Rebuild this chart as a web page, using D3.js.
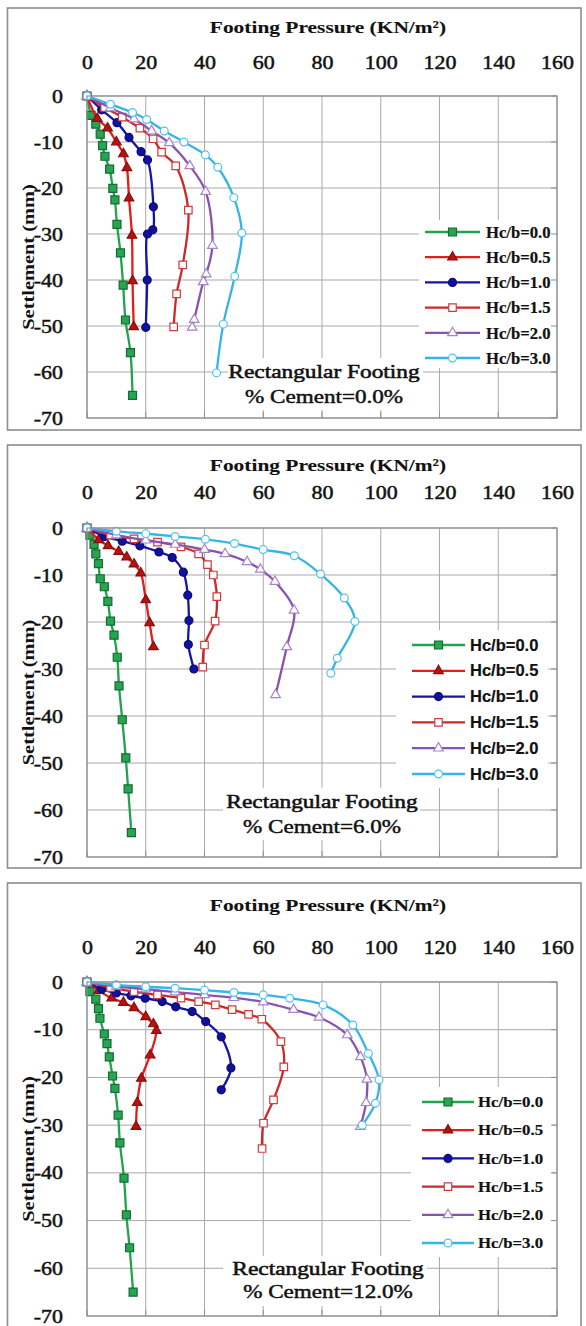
<!DOCTYPE html>
<html><head><meta charset="utf-8">
<script src="https://cdn.jsdelivr.net/npm/d3@7"></script>
<style>body{margin:0;background:#fff}svg{display:block}</style>
</head><body>
<svg id="c" width="586" height="1326"></svg>
<script>
// ---------- DATA ----------
const seriesNames = ["Hc/b=0.0","Hc/b=0.5","Hc/b=1.0","Hc/b=1.5","Hc/b=2.0","Hc/b=3.0"];
const xTickValues = [0,20,40,60,80,100,120,140,160];
const yTickValues = [0,-10,-20,-30,-40,-50,-60,-70];
const xTitle = "Footing Pressure (KN/m²)";
const yTitle = "Settlement (mm)";
const noteLine1 = "Rectangular Footing";
const cementLabels = ["% Cement=0.0%","% Cement=6.0%","% Cement=12.0%"];

// [pressure, settlement] — Cement 0.0%
const c0_h00 = [[0,0],[1.4,-4.2],[3,-6.1],[4.5,-8.3],[5.3,-10.8],[6.1,-13.1],[7.7,-15.9],[8.8,-20.1],[9.5,-22.6],[10.2,-27.9],[11.4,-34.1],[12.3,-41.1],[13.1,-48.7],[14.8,-55.8],[15.5,-65.1]];
const c0_h05 = [[0,0],[3.5,-4.9],[7,-7],[10,-10],[12.4,-12.6],[13.6,-15.6],[14.3,-22.2],[15.3,-30.3],[15.5,-40.2],[15.9,-50.2]];
const c0_h10 = [[0,0],[5,-3],[10.2,-5.8],[14.3,-9],[18.4,-12.1],[20.6,-13.9],[22.6,-24.1],[22.4,-29.1],[20.6,-30],[20.5,-40],[20,-50.3]];
const c0_h15 = [[0,0],[6,-2.5],[12,-4.6],[18,-7],[22.5,-9.3],[25.4,-12.2],[30.2,-15.2],[34.5,-24.8],[32.6,-36.7],[30.5,-43],[29.5,-50.2]];
const c0_h20 = [[0,0],[8,-2.6],[16,-5],[22,-7.6],[28,-10.2],[35,-15.2],[40.4,-20.8],[42.7,-32.5],[40.6,-38.7],[39.6,-40.4],[36.5,-48.6],[35.8,-50.3]];
const c0_h30 = [[0,0],[8,-1.8],[15.5,-3.6],[20.3,-5.1],[26.3,-7.6],[33,-10],[40.3,-12.8],[44.5,-15.5],[50,-22.1],[52.7,-29.8],[50.3,-39.2],[46.4,-49.6],[44.1,-60.2]];

// Cement 6.0%
const c6_h00 = [[0,0],[1,-1.5],[2.4,-3.5],[3,-5.5],[3.9,-7.6],[4.5,-10.8],[5.9,-12.5],[7.1,-15.6],[8,-19.8],[9.2,-22.8],[10.3,-27.5],[10.9,-33.6],[12,-40.8],[13.2,-48.9],[14,-55.5],[15.1,-64.8]];
const c6_h05 = [[0,0],[4,-2.5],[7.2,-3.8],[10.8,-5],[13.5,-6.2],[16,-7.7],[18.3,-9.6],[20,-15.3],[21.3,-20.2],[22.6,-25.3]];
const c6_h10 = [[0,0],[6,-1.8],[12,-2.8],[18,-3.8],[24.5,-5.1],[29,-6.3],[32.8,-9.4],[34.3,-14.3],[34.7,-19.7],[34.5,-24.8],[36.4,-30]];
const c6_h15 = [[0,0],[8,-1.5],[16,-2.3],[24,-3],[32,-4],[38,-5.5],[41,-7.8],[43,-10],[44.2,-14.6],[43.6,-19.8],[40,-24.9],[39.4,-29.6]];
const c6_h20 = [[0,0],[10,-1.5],[20,-2.6],[30,-3.5],[40,-4.6],[47,-5.5],[54.5,-7.2],[59,-8.8],[64,-11.4],[70.5,-17.5],[68,-25.3],[64.2,-35.5]];
const c6_h30 = [[0,0],[10,-0.7],[20,-1.2],[30,-1.8],[40.3,-2.4],[50.2,-3.3],[60,-4.6],[70.6,-5.9],[79.5,-9.8],[87.6,-14.9],[91.2,-19.9],[85.2,-27.7],[83,-30.9]];

// Cement 12.0%
const c12_h00 = [[0,0],[1,-2],[3,-3.6],[3.9,-5.6],[4.4,-7.6],[5.9,-10.9],[6.8,-12.9],[7.6,-15.7],[8.7,-19.7],[9.5,-22.3],[10.6,-27.9],[11.2,-33.7],[12.6,-41.1],[13.4,-48.8],[14.5,-55.7],[15.7,-65]];
const c12_h05 = [[0,0],[4,-1.8],[8.4,-3.4],[12.4,-4.3],[16,-5.4],[20,-7.3],[22.6,-8.8],[23.6,-10.2],[21.5,-15.3],[18.5,-20.2],[17.1,-25.3],[16.7,-30.3]];
const c12_h10 = [[0,0],[5,-1.5],[10,-2.3],[15,-2.9],[19.8,-3.4],[25.6,-4.1],[30.2,-5.2],[35.8,-6.2],[40.4,-8.3],[45.7,-11.5],[49,-18],[45.7,-22.6]];
const c12_h15 = [[0,0],[8,-1.2],[16,-2],[24,-2.7],[32,-3.4],[38,-4.1],[43.7,-4.8],[49.4,-5.8],[55,-6.8],[59.5,-7.8],[66,-12.5],[67,-17.8],[63.5,-24.7],[60.1,-29.6],[59.6,-34.9]];
const c12_h20 = [[0,0],[10,-0.9],[20,-1.5],[30,-2.1],[40,-2.7],[50,-3.3],[60,-4.2],[70.3,-5.8],[79,-7.4],[88.6,-11.1],[93.1,-15.7],[95.3,-20.4],[95,-25.3],[93.1,-30.3]];
const c12_h30 = [[0,0],[10,-0.6],[20,-1],[30,-1.3],[40,-1.7],[50,-2.2],[60,-2.7],[69,-3.4],[80.4,-4.8],[90.5,-9],[95.8,-15],[99.4,-20.5],[98.2,-25.4],[93.7,-30]];

// ---------- STYLE / LAYOUT ----------
const styles = [
  {line:"#22a34f", shape:d3.symbolSquare, size:64, fill:"#27a552", stroke:"#156b33"},
  {line:"#e31c1c", shape:d3.symbolTriangle, size:40, fill:"#b51212", stroke:"#8e0c0c"},
  {line:"#1515a6", shape:d3.symbolCircle, size:50, fill:"#1111a0", stroke:"#0b0b72"},
  {line:"#cc2a2a", shape:d3.symbolSquare, size:56, fill:"#fff", stroke:"#d23a3a"},
  {line:"#8a52b0", shape:d3.symbolTriangle, size:40, fill:"#fff", stroke:"#a784cc"},
  {line:"#36b4e6", shape:d3.symbolCircle, size:48, fill:"#fff", stroke:"#4ec2f0"}
];
const serif = "Liberation Serif, Times New Roman, serif";
const sans = "Liberation Sans, Arial, sans-serif";

const panels = [
  {data:[c0_h00,c0_h05,c0_h10,c0_h15,c0_h20,c0_h30], top:8, bottom:430, py0:96, py1:418, titleY:27, tickY:63,
   legBox:[419,220,137,148], legY0:232, legStep:25.2, legLine:[425,480], legText:486,
   legFont:{family:serif, weight:"bold", size:17, sx:0.98},
   noteBox:[228,358,195,52], note1:372, note2:397, noteX:324},
  {data:[c6_h00,c6_h05,c6_h10,c6_h15,c6_h20,c6_h30], top:445, bottom:868, py0:528, py1:857, titleY:465, tickY:493,
   legBox:[396,630,152,158], legY0:645, legStep:25.8, legLine:[412,465], legText:470,
   legFont:{family:sans, weight:"bold", size:16.5, sx:1.0},
   noteBox:[223,788,197,52], note1:802, note2:827, noteX:322},
  {data:[c12_h00,c12_h05,c12_h10,c12_h15,c12_h20,c12_h30], top:883, bottom:1340, py0:982, py1:1316, titleY:905, tickY:948,
   legBox:[411,1087,141,170], legY0:1102, legStep:28.2, legLine:[422,474], legText:478,
   legFont:{family:serif, weight:"bold", size:15, sx:1.12},
   noteBox:[223,1256,204,50], note1:1269, note2:1292, noteX:328}
];

const svg = d3.select("#c");
svg.append("rect").attr("width",586).attr("height",1326).attr("fill","#fff");

function stretchText(g, txt, x, yc, fs, sx, opts={}) {
  return g.append("text")
    .attr("transform", `translate(${x},${yc + fs*0.34}) scale(${sx},1)`)
    .attr("text-anchor", opts.anchor || "middle")
    .style("font-family", opts.family || serif)
    .style("font-weight", opts.weight || "normal")
    .style("font-size", fs + "px")
    .attr("fill", opts.fill || "#111")
    .attr("stroke", opts.fill || "#111")
    .attr("stroke-width", opts.sw == null ? 0.35 : opts.sw)
    .text(txt);
}

panels.forEach((p, pi) => {
  const g = svg.append("g");
  const x = d3.scaleLinear().domain([0,160]).range([87,557]);
  const y = d3.scaleLinear().domain([0,-70]).range([p.py0,p.py1]);

  // outer frame
  g.append("rect").attr("x",7.5).attr("y",p.top).attr("width",573.5).attr("height",p.bottom-p.top)
    .attr("fill","#fff").attr("stroke","#8c8c8c").attr("stroke-width",1.6);

  // gridlines
  g.append("g").selectAll("line").data(xTickValues).join("line")
    .attr("x1",d=>x(d)).attr("x2",d=>x(d)).attr("y1",p.py0).attr("y2",p.py1)
    .attr("stroke","#a9a9a9").attr("stroke-width",1);
  g.append("g").selectAll("line").data(yTickValues).join("line")
    .attr("x1",87).attr("x2",557).attr("y1",d=>y(d)).attr("y2",d=>y(d))
    .attr("stroke","#a9a9a9").attr("stroke-width",1);

  // series
  const line = d3.line().x(d=>x(d[0])).y(d=>y(d[1])).curve(d3.curveCatmullRom.alpha(0.5));
  p.data.forEach((s, si) => {
    const st = styles[si];
    g.append("path").attr("d", line(s)).attr("fill","none").attr("stroke",st.line).attr("stroke-width",2.3);
    g.append("g").selectAll("path").data(s).join("path")
      .attr("transform", d=>`translate(${x(d[0])},${y(d[1])})`)
      .attr("d", d3.symbol().type(st.shape).size(st.size)())
      .attr("fill", st.fill).attr("stroke", st.stroke).attr("stroke-width", 1.2);
  });

  // legend
  const lb = p.legBox;
  g.append("rect").attr("x",lb[0]).attr("y",lb[1]).attr("width",lb[2]).attr("height",lb[3]).attr("fill","#fff");
  seriesNames.forEach((name, si) => {
    const st = styles[si];
    const ly = p.legY0 + si*p.legStep;
    g.append("line").attr("x1",p.legLine[0]).attr("x2",p.legLine[1]).attr("y1",ly).attr("y2",ly)
      .attr("stroke",st.line).attr("stroke-width",2.3);
    g.append("path").attr("transform",`translate(${(p.legLine[0]+p.legLine[1])/2},${ly})`)
      .attr("d", d3.symbol().type(st.shape).size(st.size)())
      .attr("fill", st.fill).attr("stroke", st.stroke).attr("stroke-width",1.2);
    stretchText(g, name, p.legText, ly, p.legFont.size, p.legFont.sx,
      {anchor:"start", family:p.legFont.family, weight:p.legFont.weight, sw:0.2});
  });

  // annotation
  const nb = p.noteBox;
  g.append("rect").attr("x",nb[0]).attr("y",nb[1]).attr("width",nb[2]).attr("height",nb[3]).attr("fill","#fff");
  stretchText(g, noteLine1, p.noteX, p.note1, 19, 1.23, {weight:"normal", sw:0.55});
  stretchText(g, cementLabels[pi], p.noteX, p.note2, 18.5, 1.25, {weight:"normal", sw:0.45});

  // plot border + inner tick marks
  g.append("rect").attr("x",87).attr("y",p.py0).attr("width",470).attr("height",p.py1-p.py0)
    .attr("fill","none").attr("stroke","#8f8f8f").attr("stroke-width",1.2);
  g.append("g").selectAll("line").data(xTickValues).join("line")
    .attr("x1",d=>x(d)).attr("x2",d=>x(d)).attr("y1",p.py1-6).attr("y2",p.py1)
    .attr("stroke","#8f8f8f");
  g.append("g").selectAll("line").data(yTickValues).join("line")
    .attr("x1",551).attr("x2",557).attr("y1",d=>y(d)).attr("y2",d=>y(d))
    .attr("stroke","#8f8f8f");

  // x axis labels (top)
  const xa = g.append("g").attr("transform",`translate(0,${p.tickY})`)
    .call(d3.axisTop(x).tickValues(xTickValues).tickSize(0).tickPadding(0).tickFormat(d=>String(d)));
  xa.select(".domain").remove();
  xa.attr("font-family", null).attr("font-size", null);
  xa.selectAll("text").attr("y",0).attr("dy","0.34em").attr("transform","scale(1.22,1)")
    .style("font-family",serif).style("font-size","18px").attr("fill","#111")
    .attr("stroke","#111").attr("stroke-width",0.45);

  // y axis labels
  const ya = g.append("g").attr("transform","translate(63,0)")
    .call(d3.axisLeft(y).tickValues(yTickValues).tickSize(0).tickPadding(0).tickFormat(d=>String(d)));
  ya.select(".domain").remove();
  ya.attr("font-family", null).attr("font-size", null);
  ya.selectAll("text").attr("x",0).attr("dy","0.34em").attr("transform","scale(1.22,1)")
    .style("font-family",serif).style("font-size","18px").attr("fill","#111")
    .attr("stroke","#111").attr("stroke-width",0.45);

  // titles
  stretchText(g, xTitle, 328, p.titleY, 17, 1.26, {weight:"bold", sw:0.1});
  const yc = (p.py0+p.py1)/2;
  g.append("text").attr("transform",`translate(${28+17*0.34},${yc}) rotate(-90) scale(1.2,1)`)
    .attr("text-anchor","middle").style("font-family",serif).style("font-weight","bold")
    .style("font-size","17px").attr("fill","#111").text(yTitle);
});
</script>
</body></html>
